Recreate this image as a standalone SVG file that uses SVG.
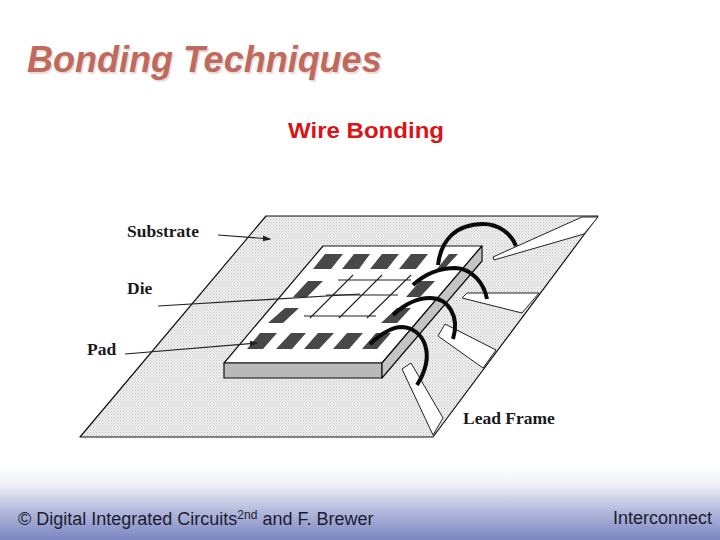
<svg xmlns="http://www.w3.org/2000/svg" width="720" height="540" viewBox="0 0 720 540">
<style>
.t{font-family:"Liberation Sans",Arial,sans-serif}
.l{font-family:"Liberation Serif","Times New Roman",serif;font-weight:bold;font-size:17.5px;fill:#1a1a1a}
.f{font-size:18px;fill:#1c1c30}
.e{stroke:#111;stroke-width:1.2;stroke-linejoin:round}
.pad{fill:#484848}
.g{stroke:#222;stroke-width:1.1;fill:none}
.w{stroke:#0a0a0a;stroke-width:4;fill:none;stroke-linecap:butt}
.a{stroke:#222;stroke-width:1.2;fill:none}
.lead{fill:#fff;stroke:#222;stroke-width:1}
</style>
<defs>
<linearGradient id="bg" x1="0" y1="0" x2="0" y2="1">
<stop offset="0" stop-color="#fff"/><stop offset="0.25" stop-color="#eceef6"/><stop offset="0.6" stop-color="#b3b9db"/><stop offset="1" stop-color="#7a85c2"/>
</linearGradient>
<pattern id="dots" width="3" height="3" patternUnits="userSpaceOnUse">
<rect width="3" height="3" fill="#ececec"/><rect width="1" height="1" fill="#c6c6c6"/><rect x="1.5" y="1.5" width="1" height="1" fill="#d6d6d6"/>
</pattern>
<marker id="ah" markerWidth="7" markerHeight="6" refX="6" refY="3" orient="auto"><path d="M0 0.5L7 3L0 5.5z" fill="#222"/></marker>
</defs>
<rect width="720" height="540" fill="#fff"/>
<rect id="footer-band" y="468" width="720" height="72" fill="url(#bg)"/>
<text class="t" x="28.5" y="73.5" font-size="36" font-weight="bold" font-style="italic" fill="#eadcd9">Bonding Techniques</text>
<text class="t" x="27" y="72" font-size="36" font-weight="bold" font-style="italic" fill="#c06a5e">Bonding Techniques</text>
<text class="t" x="288" y="137.5" font-size="22.5" font-weight="bold" fill="#dd1216" textLength="156" lengthAdjust="spacingAndGlyphs">Wire Bonding</text>

<g id="substrate"><polygon class="e" fill="url(#dots)" points="266,216 598,216 433,437 80,437"/></g>

<g id="lead-frame">
<polygon class="lead" points="493,257 582,217 598,217 584,234 494,260"/>
<polygon class="lead" points="462,298 467,293 539,293 522,313"/>
<polygon class="lead" points="438,336 445,324 496,350 483,368"/>
<polygon class="lead" points="402,369 411,363 443,418 433,435"/>
</g>

<g id="die">
<polygon class="e" fill="#fff" points="323,246 482,246 382,363 224,363"/>
<polygon class="e" fill="#b9b9b9" points="224,363 382,363 382,378 224,378"/>
<polygon class="e" fill="#c4c4c4" points="382,363 482,246 482,261 382,378"/>
<g class="pad">
<polygon points="313,269 325,254 343,254 331,269"/>
<polygon points="342,269 354,254 370,254 359,269"/>
<polygon points="370,269 382,254 399,254 387,269"/>
<polygon points="399,269 411,254 428,254 416,269"/>
<polygon points="437,269 449,254 458,254 444,269"/>
<polygon points="293,297 308,281 323,281 307,297"/>
<polygon points="406,297 420,281 435,281 420,297"/>
<polygon points="268,323 285,308 299,308 283,323"/>
<polygon points="381,323 397,308 411,308 397,323"/>
<polygon points="247,349 260,333 277,333 263,349"/>
<polygon points="276,349 291,333 306,333 292,349"/>
<polygon points="304,349 318,333 334,333 319,349"/>
<polygon points="333,349 347,333 363,333 349,349"/>
<polygon points="362,349 376,333 391,333 377,349"/>
</g>
<path class="g" d="M338,280H411M326,295H398M304,316H376M353,275L310,318M382,275L339,318M411,275L367,318"/>
</g>

<g id="connectors">
<path class="w" d="M438,265C441,240 456,224 483,224C498,224 511,233 516,246"/>
<path class="w" d="M413,285C428,271 443,268 456,268C472,269 484,283 487,299"/>
<path class="w" d="M393,315C408,301 420,298 430,298C448,298 460,316 453,339"/>
<path class="w" d="M370,344C384,331 394,327 402,327C423,328 437,353 417,385"/>
<path class="a" marker-end="url(#ah)" d="M218,235L270,239"/>
<path class="a" d="M158,306L360,294"/>
<path class="a" marker-end="url(#ah)" d="M125,354L257,343"/>
</g>

<text class="l" x="127" y="237">Substrate</text>
<text class="l" x="127" y="294">Die</text>
<text class="l" x="87" y="355">Pad</text>
<text class="l" x="463" y="424">Lead Frame</text>

<text class="t f" x="18" y="525">© Digital Integrated Circuits<tspan font-size="12" dy="-6">2nd</tspan><tspan dy="6"> and F. Brewer</tspan></text>
<text class="t f" x="712" y="524" text-anchor="end">Interconnect</text>
</svg>
